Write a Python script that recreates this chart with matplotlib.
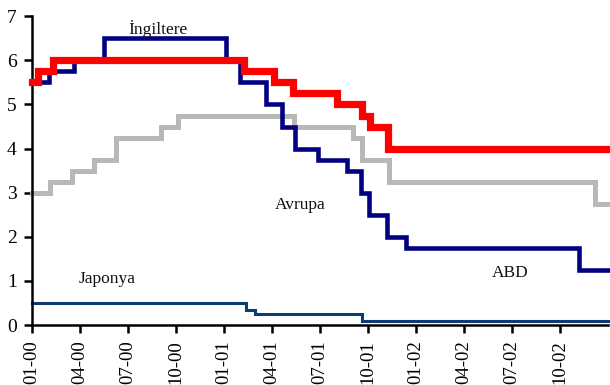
import matplotlib
matplotlib.use("Agg")
import matplotlib.pyplot as plt

plt.rcParams['font.family'] = ['Liberation Serif', 'DejaVu Serif']

# Policy rate step series: month offset from Jan 2000 where each rate takes effect
ingiltere_t = [0.0, 0.4, 1.3, 13.25, 15.15, 16.3, 19.05, 20.6, 21.1, 22.25, 36.0]
ingiltere_r = [5.5, 5.75, 6.0, 5.75, 5.5, 5.25, 5.0, 4.75, 4.5, 4.0, 4.0]

abd_t = [0.0, 1.05, 2.65, 4.5, 12.1, 13.0, 14.6, 15.6, 16.45, 17.9, 19.7,
         20.55, 21.05, 22.2, 23.35, 34.2, 36.0]
abd_r = [5.5, 5.75, 6.0, 6.5, 6.0, 5.5, 5.0, 4.5, 4.0, 3.75, 3.5,
         3.0, 2.5, 2.0, 1.75, 1.25, 1.25]

avrupa_t = [0.0, 1.1, 2.5, 3.85, 5.25, 8.05, 9.15, 16.35, 20.05, 20.6, 22.3, 35.2, 36.0]
avrupa_r = [3.0, 3.25, 3.5, 3.75, 4.25, 4.5, 4.75, 4.5, 4.25, 3.75, 3.25, 2.75, 2.75]

japonya_t = [0.0, 13.35, 13.95, 20.6, 36.0]
japonya_r = [0.5, 0.35, 0.25, 0.1, 0.1]

tick_pos = list(range(0, 36, 3))
tick_labels = ["01-00", "04-00", "07-00", "10-00", "01-01", "04-01",
               "07-01", "10-01", "01-02", "04-02", "07-02", "10-02"]

fig = plt.figure(figsize=(6.1, 3.85), dpi=100)
ax = fig.add_axes([0.0525, 0.1558, 0.9442, 0.8019])

ax.step(avrupa_t, avrupa_r, where='post', color='#b8b8b8', lw=3.6,
        solid_joinstyle='miter', clip_on=False, zorder=2)
ax.step(japonya_t, japonya_r, where='post', color='#0b3d73', lw=2.2,
        solid_joinstyle='miter', clip_on=False, zorder=2)
ax.step(abd_t, abd_r, where='post', color='#000080', lw=3.3,
        solid_joinstyle='miter', clip_on=False, zorder=3)
ax.step(ingiltere_t, ingiltere_r, where='post', color='#ff0000', lw=5.2,
        solid_joinstyle='miter', clip_on=False, zorder=4)

label_kw = dict(fontsize=12.5, ha='center', va='baseline', color='#111111')
ax.text(7.87, 6.59, "İngiltere", **label_kw)
ax.text(16.75, 2.63, "Avrupa", **label_kw)
ax.text(4.72, 0.945, "Japonya", **label_kw)
ax.text(29.9, 1.095, "ABD", **label_kw)

ax.set_xlim(0, 36)
ax.set_ylim(0, 7)
ax.set_xticks(tick_pos)
ax.set_xticklabels(tick_labels, rotation=90, fontsize=13.5)
ax.set_yticks(range(0, 8))
ax.tick_params(axis='y', labelsize=14, length=6, width=1.8, pad=5)
ax.tick_params(axis='x', length=6, width=1.8, pad=5)

for side in ('top', 'right'):
    ax.spines[side].set_visible(False)
for side in ('left', 'bottom'):
    ax.spines[side].set_linewidth(1.8)

fig.savefig("out.png", dpi=100)
